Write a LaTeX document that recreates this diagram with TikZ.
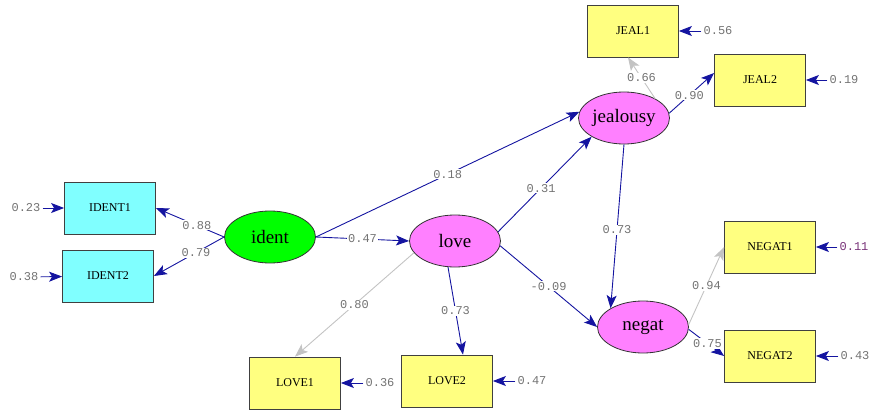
\documentclass[tikz,border=0pt]{standalone}
\usepackage{fontspec}
\setmainfont{Liberation Serif}
\newfontfamily\numfont{Liberation Mono}
\usetikzlibrary{arrows.meta,shapes.geometric}

\definecolor{pathblue}{RGB}{20,20,160}
\definecolor{fixgray}{RGB}{195,195,195}
\definecolor{numgray}{RGB}{115,115,115}
\definecolor{numpurple}{RGB}{120,50,120}
\definecolor{boxcyan}{RGB}{128,255,255}
\definecolor{boxyellow}{RGB}{255,255,128}
\definecolor{latpink}{RGB}{255,128,255}
\definecolor{latgreen}{RGB}{0,255,0}

\tikzset{
	obsbox/.style={draw=black!75,line width=0.8pt,minimum width=91pt,minimum height=52pt,inner sep=0pt,font=\fontsize{12}{14}\selectfont},
	latent/.style={ellipse,draw=black!80,line width=0.8pt,minimum width=91pt,minimum height=52pt,inner sep=0pt,font=\fontsize{19}{21}\selectfont},
	num/.style={text=numgray,inner sep=2pt,font=\numfont\fontsize{12}{14}\selectfont},
	lbl/.style={num,fill=white,inner sep=1pt,pos=0.5},
	path/.style={draw=pathblue,line width=0.9pt,-{Stealth[length=13pt,width=10pt,inset=3pt]}},
	fixed/.style={draw=fixgray,line width=0.9pt,-{Stealth[length=13pt,width=10pt,inset=3pt]}}
}

\begin{document}
\begin{tikzpicture}[x=1pt,y=-1pt]
	\useasboundingbox (0,0) rectangle (871,410);

	\begin{scope} % Latent variables
		\node[latent,fill=latgreen] (ident) at (270,237) {ident};
		\node[latent,fill=latpink] (love) at (455,241) {love};
		\node[latent,fill=latpink] (jealousy) at (624,118) {jealousy};
		\node[latent,fill=latpink] (negat) at (643,327) {negat};
	\end{scope}

	\begin{scope} % Observed variables
		\node[obsbox,fill=boxcyan] (IDENT1) at (110,208) {IDENT1};
		\node[obsbox,fill=boxcyan] (IDENT2) at (108,276) {IDENT2};
		\node[obsbox,fill=boxyellow] (JEAL1) at (633,31) {JEAL1};
		\node[obsbox,fill=boxyellow] (JEAL2) at (760,80) {JEAL2};
		\node[obsbox,fill=boxyellow] (NEGAT1) at (770,247) {NEGAT1};
		\node[obsbox,fill=boxyellow] (NEGAT2) at (770,356) {NEGAT2};
		\node[obsbox,fill=boxyellow] (LOVE1) at (295,383) {LOVE1};
		\node[obsbox,fill=boxyellow] (LOVE2) at (447,381) {LOVE2};
	\end{scope}

	\begin{scope} % Error variances
		\node[num] (eIDENT1) at (26,208) {0.23};
		\node[num] (eIDENT2) at (24,277) {0.38};
		\node[num] (eJEAL1) at (718,31) {0.56};
		\node[num] (eJEAL2) at (844,80) {0.19};
		\node[num,text=numpurple] (eNEGAT1) at (854,247) {0.11};
		\node[num] (eNEGAT2) at (855,356) {0.43};
		\node[num] (eLOVE1) at (380,383) {0.36};
		\node[num] (eLOVE2) at (532,381) {0.47};
		\draw[path] (eIDENT1) -- (IDENT1);
		\draw[path] (eIDENT2) -- (IDENT2);
		\draw[path] (eJEAL1) -- (JEAL1);
		\draw[path] (eJEAL2) -- (JEAL2);
		\draw[path] (eNEGAT1) -- (NEGAT1);
		\draw[path] (eNEGAT2) -- (NEGAT2);
		\draw[path] (eLOVE1) -- (LOVE1);
		\draw[path] (eLOVE2) -- (LOVE2);
	\end{scope}

	\begin{scope} % Loadings
		\draw[path] (ident.west) -- node[lbl,pos=0.4]{0.88} (IDENT1.east);
		\draw[path] (ident.west) -- node[lbl,pos=0.4]{0.79} (IDENT2.east);
		\draw[fixed] (love.196) -- node[lbl]{0.80} (LOVE1.north);
		\draw[path] (love.255) -- node[lbl]{0.73} ([xshift=16pt]LOVE2.north);
		\draw[fixed] (jealousy.32) -- node[lbl]{0.66} ([xshift=-5pt]JEAL1.south);
		\draw[path] (jealousy.6) -- node[lbl,pos=0.45]{0.90} ([yshift=7pt]JEAL2.west);
		\draw[fixed] (negat.3) -- node[lbl]{0.94} (NEGAT1.west);
		\draw[path] (negat.-3) -- node[lbl,pos=0.53]{0.75} (NEGAT2.west);
	\end{scope}

	\begin{scope} % Structural paths
		\draw[path] (ident.east) -- node[lbl]{0.47} (love.west);
		\draw[path] (ident.east) -- node[lbl]{0.18} (jealousy.172);
		\draw[path] (love.12) -- node[lbl,pos=0.46]{0.31} (jealousy.210);
		\draw[path] (love.-6) -- node[lbl]{-0.09} (negat.west);
		\draw[path] (jealousy.south) -- node[lbl,pos=0.52]{0.73} (negat.150);
	\end{scope}
\end{tikzpicture}
\end{document}
